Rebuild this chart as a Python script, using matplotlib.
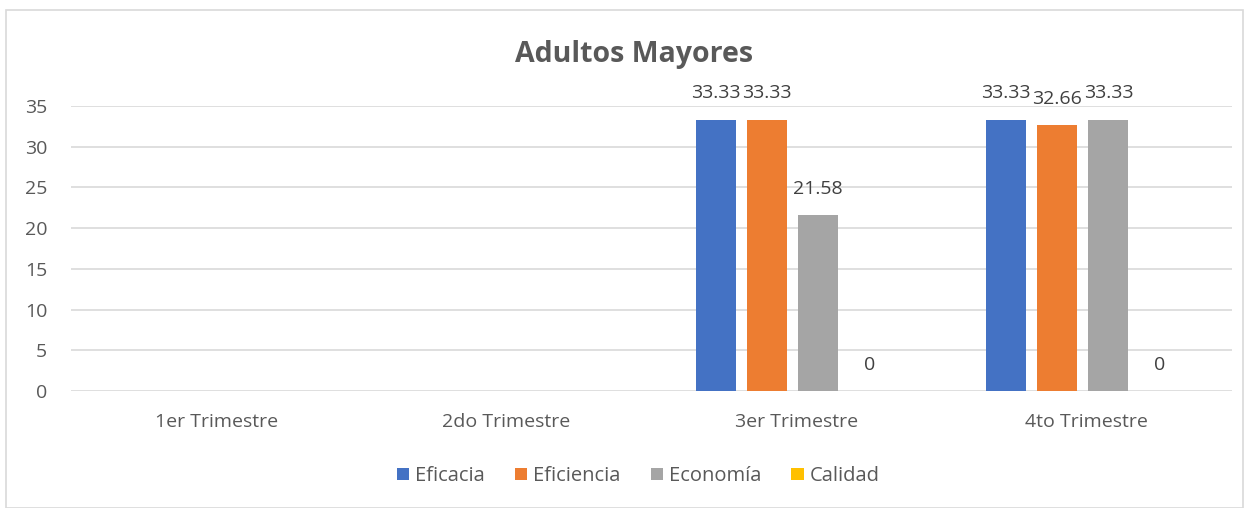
import numpy as np
import matplotlib.pyplot as plt
from matplotlib.patches import Rectangle

# datos
trimestres = ['1er Trimestre', '2do Trimestre', '3er Trimestre', '4to Trimestre']
series = ['Eficacia', 'Eficiencia', 'Economía', 'Calidad']
eficacia = [np.nan, np.nan, 33.33, 33.33]
eficiencia = [np.nan, np.nan, 33.33, 32.66]
economia = [np.nan, np.nan, 21.58, 33.33]
calidad = [np.nan, np.nan, 0, 0]
colores = ['#4472C4', '#ED7D31', '#A5A5A5', '#FFC000']

plt.rcParams['font.family'] = ['Open Sans', 'DejaVu Sans']

fig = plt.figure(figsize=(12.49, 5.08), dpi=100)
ax = fig.add_axes([0.0568, 0.2303, 0.9296, 0.561])

fig.patches.append(Rectangle((0.005, 0.0), 0.99, 0.98, transform=fig.transFigure,
                             fill=False, edgecolor='#D9D9D9', linewidth=1.2))

x = np.arange(len(trimestres))
paso = 0.176
ancho = 0.138
valores = [eficacia, eficiencia, economia, calidad]
for i, (nombre, vals, c) in enumerate(zip(series, valores, colores)):
    pos = x + (i - 1.5) * paso - 0.014
    ax.bar(pos, vals, ancho, color=c, label=nombre, zorder=3)
    for xp, v in zip(pos, vals):
        if np.isnan(v):
            continue
        ax.annotate('{:g}'.format(v), (xp, v), xytext=(0, 19), textcoords='offset points',
                    ha='center', va='center', fontsize=14, color='#404040')

ax.set_xlim(-0.5, 3.5)
ax.set_ylim(0, 35)
ax.set_yticks(range(0, 36, 5))
ax.set_xticks(x)
ax.set_xticklabels(trimestres)
ax.tick_params(axis='both', length=0, labelsize=14, labelcolor='#595959')
ax.tick_params(axis='y', pad=17)
ax.tick_params(axis='x', pad=16)
ax.grid(axis='y', color='#D9D9D9', linewidth=1.2, zorder=0)
for s in ax.spines.values():
    s.set_visible(False)

fig.suptitle('Adultos Mayores', x=0.508, y=0.922, fontsize=20.5, fontweight='bold', color='#595959')

leg = fig.legend(loc='center', bbox_to_anchor=(0.511, 0.063), ncol=4, frameon=False,
                 fontsize=14.5, handlelength=0.6, handleheight=0.6, columnspacing=1.5,
                 handletextpad=0.3)
for t in leg.get_texts():
    t.set_color('#595959')

fig.savefig('out.png', dpi=100)
